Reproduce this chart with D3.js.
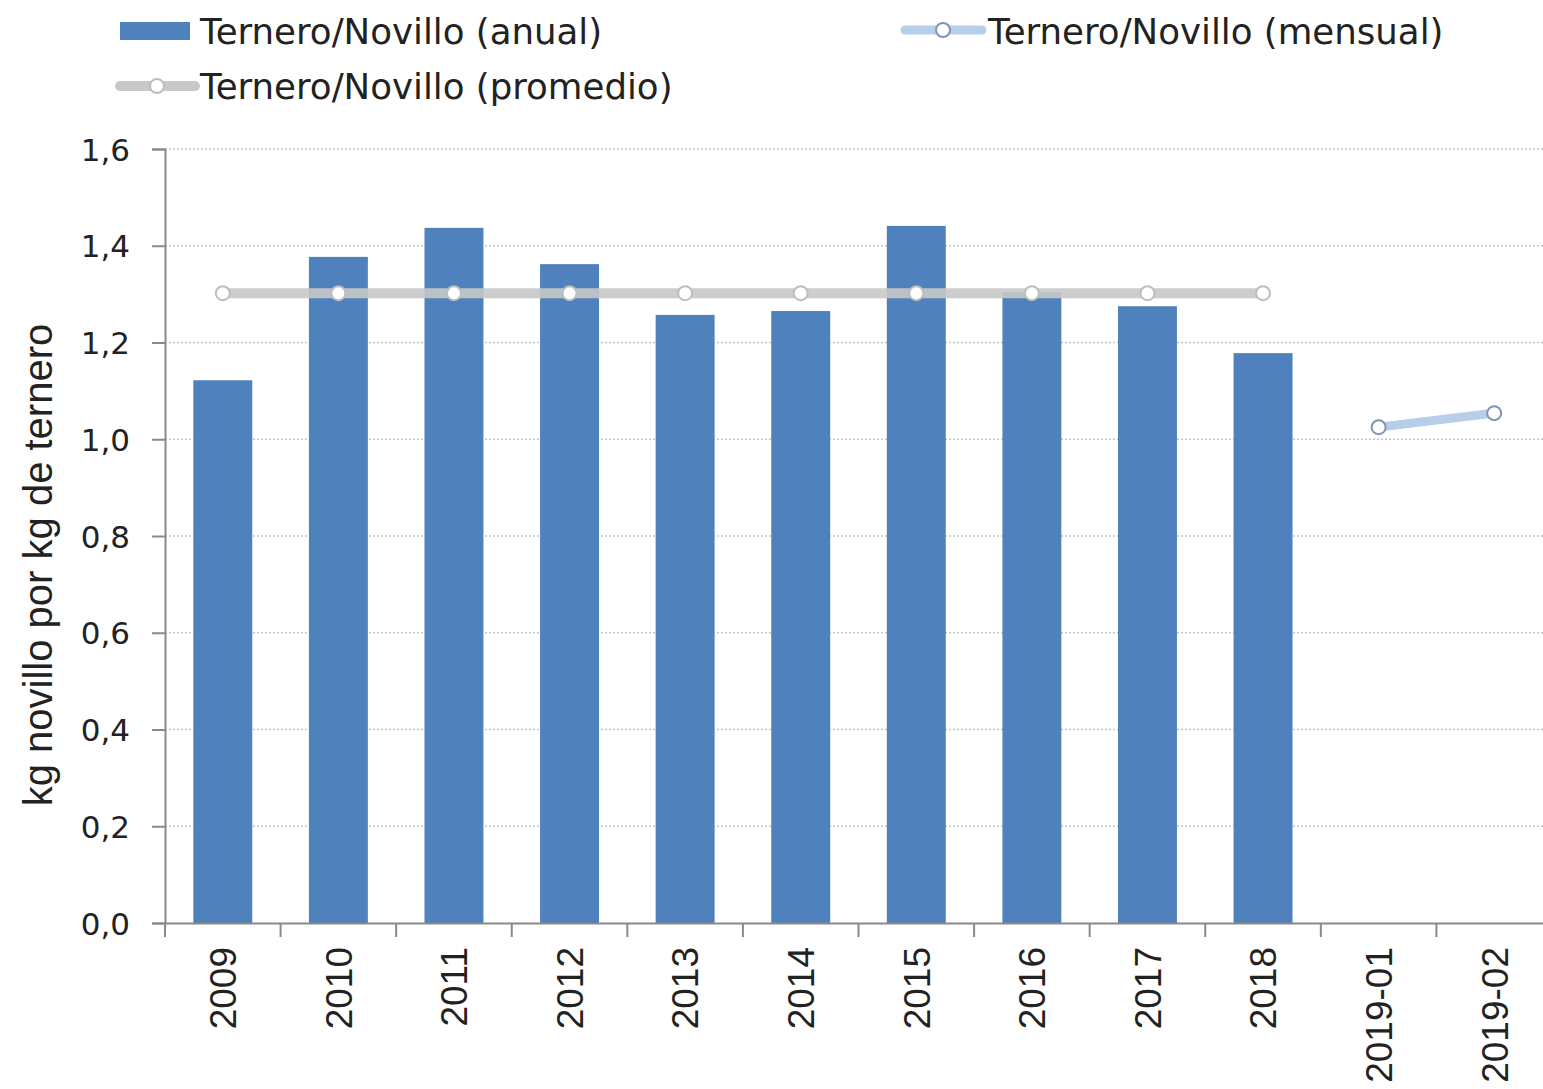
<!DOCTYPE html>
<html>
<head>
<meta charset="utf-8">
<script src="https://cdn.jsdelivr.net/npm/d3@7"></script>
<style>
  body { margin: 0; background: #fff; }
  svg { display: block; }
</style>
</head>
<body>
<svg id="chart" width="1543" height="1089"></svg>
<script>
// categories on the x axis
const categories = ["2009", "2010", "2011", "2012", "2013", "2014", "2015", "2016", "2017", "2018", "2019-01", "2019-02"];

// annual ratio (bars)
const anualCats = ["2009", "2010", "2011", "2012", "2013", "2014", "2015", "2016", "2017", "2018"];
const anualValues = [1.122, 1.377, 1.437, 1.362, 1.257, 1.265, 1.441, 1.304, 1.275, 1.178];

// average line over the annual years
const promedioValues = [1.302, 1.302, 1.302, 1.302, 1.302, 1.302, 1.302, 1.302, 1.302, 1.302];

// monthly values
const mensualCats = ["2019-01", "2019-02"];
const mensualValues = [1.025, 1.054];

const yTicks = [0, 0.2, 0.4, 0.6, 0.8, 1.0, 1.2, 1.4, 1.6];

// plot runs a little past the right edge of the picture
const m = { left: 165, right: 1552, top: 149, bottom: 923 };

const svg = d3.select("#chart");

const x = d3.scaleBand().domain(categories).range([m.left, m.right]).padding(0);
const y = d3.scaleLinear().domain([0, 1.6]).range([m.bottom, m.top]);
const fmt = d => d3.format(".1f")(d).replace(".", ",");

// gridlines
svg.append("g")
  .selectAll("line")
  .data(yTicks.filter(d => d > 0))
  .enter()
  .append("line")
    .attr("x1", m.left)
    .attr("x2", m.right)
    .attr("y1", d => y(d))
    .attr("y2", d => y(d))
    .attr("stroke", "#c4c4c4")
    .attr("stroke-width", 1.5)
    .attr("stroke-dasharray", "2,2");

// bars
const bw = x.bandwidth() * 0.51;
svg.append("g")
  .selectAll("rect")
  .data(anualCats.map((c, i) => ({ c, v: anualValues[i] })))
  .enter()
  .append("rect")
    .attr("x", d => x(d.c) + (x.bandwidth() - bw) / 2)
    .attr("y", d => y(d.v))
    .attr("width", bw)
    .attr("height", d => y(0) - y(d.v))
    .attr("fill", "#4f81bd");

const cx = c => x(c) + x.bandwidth() / 2;

// average line
const avg = anualCats.map((c, i) => ({ c, v: promedioValues[i] }));
const line = d3.line().x(d => cx(d.c)).y(d => y(d.v));
svg.append("path")
  .datum(avg)
  .attr("d", line)
  .attr("fill", "none")
  .attr("stroke", "#c8c8c8")
  .attr("stroke-opacity", 0.9)
  .attr("stroke-width", 10);
svg.append("g")
  .selectAll("circle")
  .data(avg)
  .enter()
  .append("circle")
    .attr("cx", d => cx(d.c))
    .attr("cy", d => y(d.v))
    .attr("r", 7)
    .attr("fill", "#fff")
    .attr("stroke", "#bdbdbd")
    .attr("stroke-width", 2);

// monthly line
const men = mensualCats.map((c, i) => ({ c, v: mensualValues[i] }));
svg.append("path")
  .datum(men)
  .attr("d", line)
  .attr("fill", "none")
  .attr("stroke", "#b7cdea")
  .attr("stroke-width", 9);
svg.append("g")
  .selectAll("circle")
  .data(men)
  .enter()
  .append("circle")
    .attr("cx", d => cx(d.c))
    .attr("cy", d => y(d.v))
    .attr("r", 7)
    .attr("fill", "#fff")
    .attr("stroke", "#7f93b3")
    .attr("stroke-width", 2);

// y axis
const yAxis = svg.append("g")
  .attr("transform", `translate(${m.left},0)`)
  .call(d3.axisLeft(y).tickValues(yTicks).tickFormat(fmt).tickSize(13).tickPadding(22));
yAxis.select(".domain").attr("stroke", "#8a8a8a").attr("stroke-width", 2);
yAxis.selectAll(".tick line").attr("stroke", "#8a8a8a").attr("stroke-width", 2);
yAxis.selectAll("text")
  .attr("font-family", "DejaVu Sans")
  .attr("font-size", 31)
  .attr("fill", "#222")
  .attr("dy", "0.36em");

// x axis
const xAxis = svg.append("g")
  .attr("transform", `translate(0,${m.bottom})`)
  .call(d3.axisBottom(x).tickSize(0).tickSizeOuter(0));
xAxis.select(".domain").attr("stroke", "#8a8a8a").attr("stroke-width", 2);
xAxis.selectAll(".tick line").remove();
svg.append("g")
  .selectAll("line")
  .data(categories)
  .enter()
  .append("line")
    .attr("x1", d => x(d))
    .attr("x2", d => x(d))
    .attr("y1", m.bottom)
    .attr("y2", m.bottom + 14)
    .attr("stroke", "#8a8a8a")
    .attr("stroke-width", 2);
xAxis.selectAll("text")
  .attr("font-family", "Liberation Sans")
  .attr("font-size", 37)
  .attr("fill", "#222")
  .attr("text-anchor", "end")
  .attr("transform", "rotate(-90)")
  .attr("x", -24)
  .attr("y", 0)
  .attr("dy", "0.36em");

// y axis title
svg.append("text")
  .attr("transform", "translate(38,565) rotate(-90)")
  .attr("text-anchor", "middle")
  .attr("dy", "0.36em")
  .attr("font-family", "Liberation Sans")
  .attr("font-size", 40)
  .attr("fill", "#222")
  .text("kg novillo por kg de ternero");

// legend
const lg = svg.append("g").attr("font-family", "DejaVu Sans").attr("font-size", 35.6).attr("fill", "#222");
lg.append("rect").attr("x", 120).attr("y", 22).attr("width", 70).attr("height", 18).attr("fill", "#4f81bd");
lg.append("text").attr("x", 200).attr("y", 31).attr("dy", "0.36em").text("Ternero/Novillo (anual)");

lg.append("line").attr("x1", 905).attr("x2", 982).attr("y1", 30).attr("y2", 30)
  .attr("stroke", "#b7cdea").attr("stroke-width", 9).attr("stroke-linecap", "round");
lg.append("circle").attr("cx", 943).attr("cy", 30).attr("r", 7)
  .attr("fill", "#fff").attr("stroke", "#7f93b3").attr("stroke-width", 2);
lg.append("text").attr("x", 988).attr("y", 31).attr("dy", "0.36em").text("Ternero/Novillo (mensual)");

lg.append("line").attr("x1", 120).attr("x2", 195).attr("y1", 86).attr("y2", 86)
  .attr("stroke", "#c8c8c8").attr("stroke-width", 10).attr("stroke-linecap", "round");
lg.append("circle").attr("cx", 157).attr("cy", 86).attr("r", 7)
  .attr("fill", "#fff").attr("stroke", "#bdbdbd").attr("stroke-width", 2);
lg.append("text").attr("x", 200).attr("y", 86).attr("dy", "0.36em").text("Ternero/Novillo (promedio)");
</script>
</body>
</html>
